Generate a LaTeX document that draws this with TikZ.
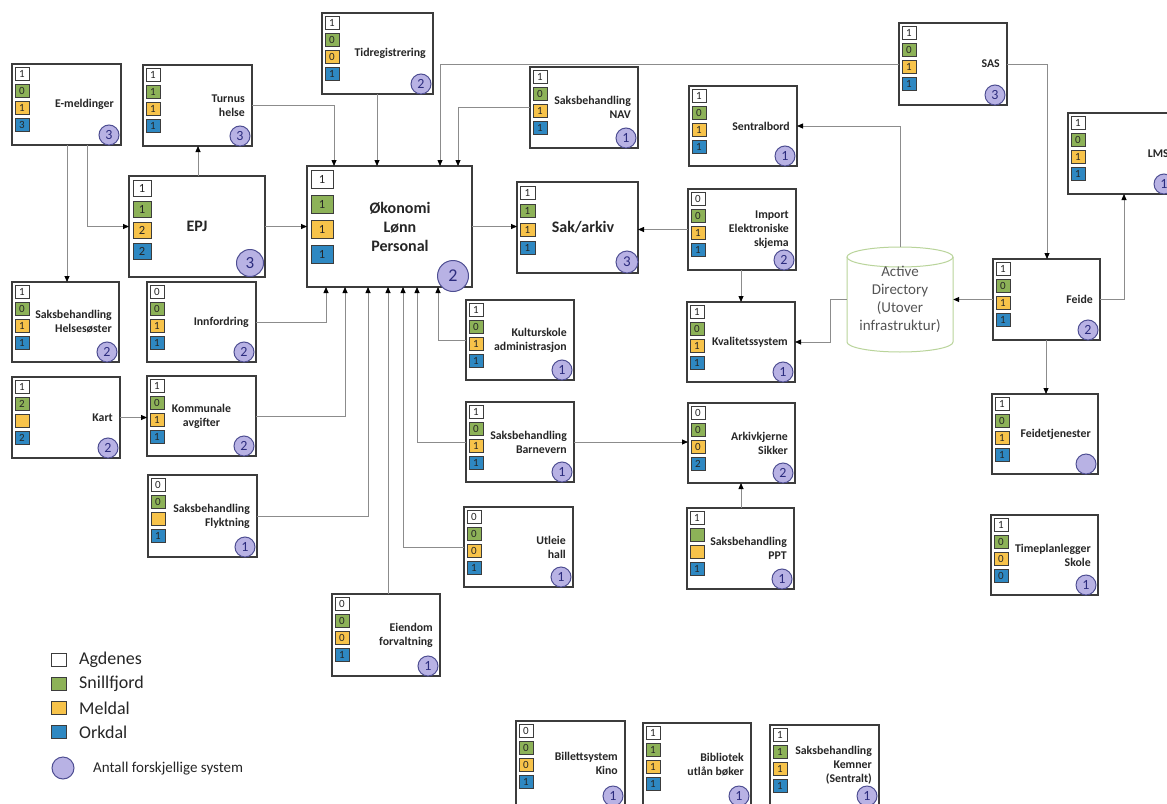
\documentclass[tikz,border=0pt]{standalone}
\usepackage{fontspec}
\setmainfont{Carlito}
\usetikzlibrary{arrows.meta}
\definecolor{cAg}{HTML}{FFFFFF}
\definecolor{cSn}{HTML}{8DB258}
\definecolor{cMe}{HTML}{F7C34A}
\definecolor{cOr}{HTML}{2E88C2}
\definecolor{cCirc}{HTML}{B8B2E4}
\definecolor{cCircB}{HTML}{4E4E92}
\definecolor{cCircT}{HTML}{2C2C7E}
\definecolor{cBox}{HTML}{3C3C3C}
\definecolor{cLine}{HTML}{8C8C8C}
\definecolor{cAD}{HTML}{B9D49A}
\definecolor{cADt}{HTML}{555555}
\definecolor{cTxt}{HTML}{262626}

\newcommand\SQW{14}
\newcommand\SQH{13}
\newcommand\SQP{17}
\newcommand\SQT{3}
\newcommand\SQL{3}
\newcommand\CR{10}
\newcommand\CX{12}
\newcommand\CY{10}
\newcommand\LX{7}
\newcommand\NUMF{\fontsize{11}{11}\selectfont}
\newcommand\CIRF{\fontsize{14}{14}\selectfont}
\newcommand\LABF{\fontsize{11.8}{14}\selectfont\bfseries}

\tikzset{
  sysbox/.style={draw=cBox, line width=1.2pt, fill=white, inner sep=0pt, outer sep=0pt},
  sq/.style={draw=cBox, line width=0.8pt, minimum width=\SQW, minimum height=\SQH, inner sep=0pt, text=cTxt},
  circ/.style={circle, draw=cCircB, fill=cCirc, line width=1pt, minimum size=2*\CR, inner sep=0pt, text=cCircT},
  lab/.style={anchor=east, align=right, inner sep=0pt, font=\LABF, text=cTxt},
  conn/.style={draw=cLine, line width=0.8pt, -{Triangle[length=6pt,width=5pt,color=black]}},
  legsq/.style={draw=cBox, line width=0.8pt, minimum width=15, minimum height=13, inner sep=0pt},
  legtxt/.style={anchor=west, inner sep=0pt, font=\fontsize{18}{18}\selectfont, text=cTxt},
  adnode/.style={draw=none, minimum width=106, minimum height=105, align=center, inner sep=0pt,
                 font=\fontsize{15}{18}\selectfont, text=cADt}
}

\newcommand\sysbox[8]{%
  \node[sysbox, minimum width={#4-#2}, minimum height={#5-#3}] (#1) at ({(#2+#4)/2},{(#3+#5)/2}) {};
  \foreach \na/\nb/\nc/\nd in {#7}{%
    \node[sq, fill=cAg] (#1-ag) at ({#2+\SQL+\SQW/2},{#3+\SQT+\SQH/2}) {\NUMF\na};
    \node[sq, fill=cSn] (#1-sn) at ({#2+\SQL+\SQW/2},{#3+\SQT+\SQP+\SQH/2}) {\NUMF\nb};
    \node[sq, fill=cMe] (#1-me) at ({#2+\SQL+\SQW/2},{#3+\SQT+2*\SQP+\SQH/2}) {\NUMF\nc};
    \node[sq, fill=cOr] (#1-or) at ({#2+\SQL+\SQW/2},{#3+\SQT+3*\SQP+\SQH/2}) {\NUMF\nd};
  }
  \node[circ] (#1-c) at ({#4-\CX},{#5-\CY}) {\CIRF #8};
  \node[lab] (#1-l) at ({#4-\LX},{(#3+#5)/2}) {#6};
}

\begin{document}
\begin{tikzpicture}[x=1pt, y=-1pt]
\useasboundingbox[fill=white] (0,0) rectangle (1167,803);

% ---------- small boxes ----------
\sysbox{emeld}{12}{64}{121}{145}{E-meldinger}{1/0/1/3}{3}
\sysbox{turnus}{143}{65}{252}{146}{Turnus\\helse}{1/1/1/1}{3}
\sysbox{tid}{322}{13}{433}{94}{Tidregistrering}{1/0/0/1}{2}
\sysbox{nav}{530}{67}{638}{148}{Saksbehandling\\NAV}{1/0/1/1}{1}
\sysbox{sas}{899}{23}{1007}{105}{SAS}{1/0/1/1}{3}
\sysbox{sentral}{689}{86}{797}{166}{Sentralbord}{1/0/1/1}{1}
\sysbox{lms}{1068}{113}{1176}{194}{LMS}{1/0/1/1}{1}
\sysbox{imp}{688}{189}{796}{270}{Import\\Elektroniske\\skjema}{0/0/1/1}{2}
\sysbox{feide}{993}{259}{1100}{340}{Feide}{1/0/1/1}{2}
\sysbox{helse}{12}{282}{119}{362}{Saksbehandling\\Helsesøster}{1/0/1/1}{2}
\sysbox{innf}{147}{282}{256}{362}{Innfordring}{0/0/1/1}{2}
\sysbox{kart}{12}{377}{120}{458}{Kart}{1/2/{}/2}{2}
{\tikzset{lab/.append style={anchor=center, align=center}}\renewcommand\LX{54.5}%
\sysbox{komm}{147}{376}{256}{456}{Kommunale\\avgifter}{1/0/1/1}{2}}
\sysbox{flykt}{148}{475}{257}{557}{Saksbehandling\\Flyktning}{0/0/{}/1}{1}
\sysbox{kult}{466}{300}{574}{380}{Kulturskole\\administrasjon}{1/0/1/1}{1}
\sysbox{barn}{466}{402}{574}{482}{Saksbehandling\\Barnevern}{1/0/1/1}{1}
\sysbox{utl}{464}{507}{573}{587}{Utleie\\hall}{0/0/0/1}{1}
\sysbox{eiend}{332}{594}{440}{676}{Eiendom\\forvaltning}{0/0/0/1}{1}
\sysbox{kval}{687}{302}{795}{382}{Kvalitetssystem}{1/0/1/1}{1}
\sysbox{ark}{688}{403}{795}{483}{Arkivkjerne\\Sikker}{0/0/0/2}{2}
\sysbox{ppt}{687}{508}{794}{589}{Saksbehandling\\PPT}{1/{}/{}/1}{1}
\sysbox{fdt}{992}{394}{1098}{474}{Feidetjenester}{1/0/1/1}{}
\sysbox{time}{991}{515}{1098}{595}{Timeplanlegger\\Skole}{1/0/0/0}{1}
\sysbox{kino}{516}{721}{625}{806}{Billettsystem\\Kino}{0/0/0/1}{1}
\sysbox{bibl}{643}{723}{751}{806}{Bibliotek\\utlån bøker}{1/1/1/1}{1}
\sysbox{kemn}{770}{725}{879}{806}{Saksbehandling\\Kemner\\(Sentralt)}{1/1/1/1}{1}

% ---------- large boxes ----------
{\renewcommand\SQW{18}\renewcommand\SQH{16}\renewcommand\SQP{21}\renewcommand\SQT{4}\renewcommand\SQL{4}%
 \renewcommand\CR{13.5}\renewcommand\CX{15}\renewcommand\CY{14}\renewcommand\LX{68}%
 \renewcommand\NUMF{\fontsize{12.5}{12.5}\selectfont}\renewcommand\CIRF{\fontsize{17}{17}\selectfont}%
 \renewcommand\LABF{\fontsize{16}{19}\selectfont\bfseries}%
 \tikzset{lab/.append style={anchor=center, align=center}}%
 \sysbox{epj}{129}{176}{265}{277}{EPJ}{1/1/2/2}{3}}
{\renewcommand\SQW{22}\renewcommand\SQH{18}\renewcommand\SQP{25}\renewcommand\SQT{4}\renewcommand\SQL{4}%
 \renewcommand\CR{15.5}\renewcommand\CX{19}\renewcommand\CY{11}\renewcommand\LX{72}%
 \renewcommand\NUMF{\fontsize{12.5}{12.5}\selectfont}\renewcommand\CIRF{\fontsize{18}{18}\selectfont}%
 \renewcommand\LABF{\fontsize{16}{19}\selectfont\bfseries}%
 \tikzset{lab/.append style={anchor=center, align=center}}%
 \sysbox{okon}{307}{166}{472}{287}{Økonomi\\Lønn\\Personal}{1/1/1/1}{2}}
{\renewcommand\SQW{15}\renewcommand\SQH{13}\renewcommand\SQP{18.5}\renewcommand\SQT{4}\renewcommand\SQL{3}%
 \renewcommand\CR{11}\renewcommand\CX{11}\renewcommand\CY{11}\renewcommand\LX{55}%
 \renewcommand\NUMF{\fontsize{11}{11}\selectfont}\renewcommand\CIRF{\fontsize{15}{15}\selectfont}%
 \renewcommand\LABF{\fontsize{16}{19}\selectfont\bfseries}%
 \tikzset{lab/.append style={anchor=center, align=center}}%
 \sysbox{sak}{517}{182}{638}{273}{Sak/arkiv}{1/1/1/1}{3}}

% ---------- Active Directory ----------
\path[draw=cAD, fill=white, line width=1pt] (847,257) -- (847,342)
  arc[start angle=180, end angle=360, x radius=53pt, y radius=10pt] -- (953,257);
\draw[cAD, line width=1pt, fill=white] (900,257) ellipse [x radius=53pt, y radius=10pt];
\node[adnode] (ad) at (900,299.5) {Active\\Directory\\(Utover\\infrastruktur)};

% ---------- connectors ----------
\draw[conn] ([xshift=75pt]emeld.south west) |- (epj.west);
\draw[conn] ([xshift=55pt]emeld.south west) -- ([xshift=55pt]helse.north west);
\draw[conn] ([xshift=69pt]epj.north west) -- ([xshift=55pt]turnus.south west);
\draw[conn] (turnus.east) -| ([xshift=27pt]okon.north west);
\draw[conn] ([xshift=55pt]tid.south west) -- ([xshift=70pt]okon.north west);
\draw[conn] (sas.west) -| ([xshift=133pt]okon.north west);
\draw[conn] (sas.east) -| ([xshift=54pt]feide.north west);
\draw[conn] (nav.west) -| ([xshift=151pt]okon.north west);
\draw[conn] (epj.east) -- (okon.west);
\draw[conn] (okon.east) -- (okon.east -| sak.west);
\draw[conn] (imp.west) -- (imp.west -| sak.east);
\draw[conn] ([xshift=53pt]imp.south west) -- ([xshift=54pt]kval.north west);
\draw[conn] (ad.north) |- (sentral.east);
\draw[conn] (ad.west) -- ++(-16,0) |- (kval.east);
\draw[conn] (feide.west) -- (feide.west -| ad.east);
\draw[conn] (feide.east) -| ([xshift=56pt]lms.south west);
\draw[conn] ([xshift=53pt]feide.south west) -- ([xshift=54pt]fdt.north west);
\draw[conn] ([xshift=54pt]ppt.north west) -- ([xshift=53pt]ark.south west);
\draw[conn] (barn.east) -- (barn.east -| ark.west);
\draw[conn] (kart.east) -- (kart.east -| komm.west);
\draw[conn] (innf.east) -| ([xshift=19pt]okon.south west);
\draw[conn] (komm.east) -| ([xshift=38pt]okon.south west);
\draw[conn] (flykt.east) -| ([xshift=61pt]okon.south west);
\draw[conn] ([xshift=56pt]eiend.north west) -- ([xshift=81pt]okon.south west);
\draw[conn] (utl.west) -| ([xshift=96pt]okon.south west);
\draw[conn] (barn.west) -| ([xshift=110pt]okon.south west);
\draw[conn] (kult.west) -| ([xshift=131pt]okon.south west);

% ---------- legend ----------
\foreach \c/\t/\y [count=\i] in {cAg/Agdenes/660, cSn/Snillfjord/684, cMe/Meldal/708, cOr/Orkdal/732}{
  \node[legsq, fill=\c] (legsq\i) at (58.5,\y) {};
  \node[legtxt] (legtxt\i) at (79,\y) {\t};
}
\node[circle, draw=cCircB, fill=cCirc, line width=1pt, minimum size=22, inner sep=0pt] (legc) at (63,768) {};
\node[anchor=west, inner sep=0pt, font=\fontsize{15}{15}\selectfont, text=cTxt] (legctxt) at (93,769) {Antall forskjellige system};
\end{tikzpicture}
\end{document}
